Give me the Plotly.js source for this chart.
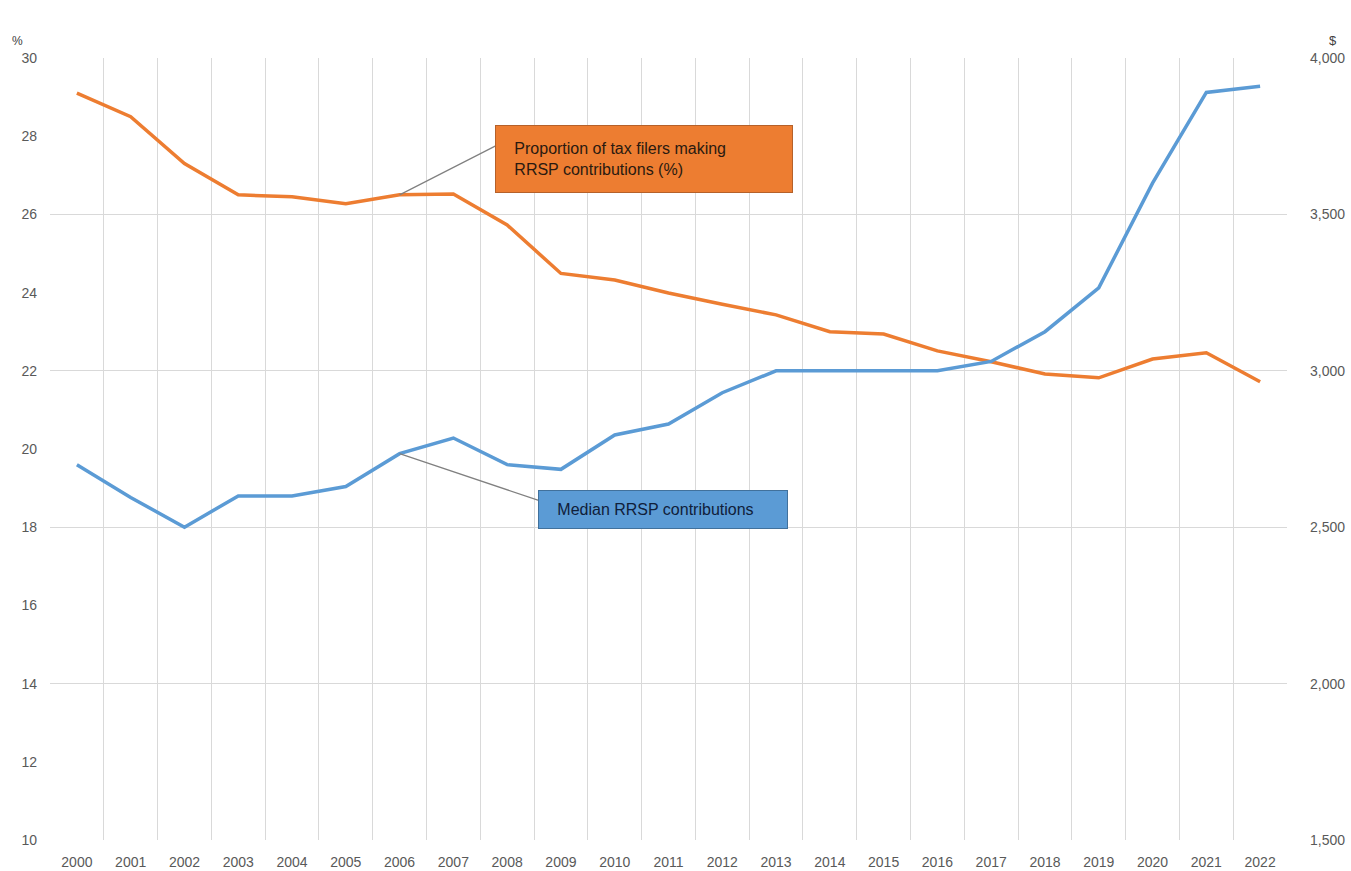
<!DOCTYPE html>
<html>
<head>
<meta charset="utf-8">
<script src="https://cdn.plot.ly/plotly-3.0.1.min.js"></script>
<style>html,body{margin:0;padding:0;background:#fff;}#chart{width:1351px;height:871px;}</style>
</head>
<body>
<div id="chart"></div>
<script>
const years = ["2000","2001","2002","2003","2004","2005","2006","2007","2008","2009","2010","2011","2012","2013","2014","2015","2016","2017","2018","2019","2020","2021","2022"];
const proportionPct = [29.1, 28.5, 27.3, 26.5, 26.45, 26.27, 26.5, 26.52, 25.73, 24.49, 24.32, 23.99, 23.7, 23.43, 23.0, 22.94, 22.51, 22.23, 21.92, 21.82, 22.3, 22.46, 21.72];
const medianContrib = [2700, 2595, 2500, 2600, 2600, 2630, 2735, 2785, 2700, 2685, 2795, 2830, 2930, 3000, 3000, 3000, 3000, 3030, 3125, 3265, 3600, 3890, 3910];
const leftTicks = [10, 12, 14, 16, 18, 20, 22, 24, 26, 28, 30];
const rightTicks = [1500, 2000, 2500, 3000, 3500, 4000];
const orangeLabelLines = ["Proportion of tax filers making", "RRSP contributions (%)"];
const blueLabel = "Median RRSP contributions";

const ORANGE = "#ED7D31";
const BLUE = "#5B9BD5";
const tickFont = {family: "Liberation Sans, Arial, sans-serif", size: 14, color: "#595959"};
const pad = "&nbsp;&nbsp;&nbsp;";
const leaderYear = "2006";
const li = years.indexOf(leaderYear);

const traces = [
  {x: years, y: medianContrib, yaxis: "y2", type: "scatter", mode: "lines",
   line: {color: BLUE, width: 3.5}, name: blueLabel, hoverinfo: "x+y"},
  {x: years, y: proportionPct, yaxis: "y", type: "scatter", mode: "lines",
   line: {color: ORANGE, width: 3.5}, name: "Proportion", hoverinfo: "x+y"}
];

const leaderStyle = {
  showarrow: true, text: ".", font: {size: 4, color: "rgba(0,0,0,0)"}, borderpad: 0,
  arrowhead: 0, arrowwidth: 1.2, arrowcolor: "#808080", standoff: 0
};

const layout = {
  width: 1351, height: 871,
  margin: {l: 50, r: 64, t: 58, b: 31},
  paper_bgcolor: "#ffffff", plot_bgcolor: "#ffffff",
  showlegend: false,
  xaxis: {
    type: "category", tickson: "boundaries", showgrid: true, gridcolor: "#d9d9d9", gridwidth: 1,
    ticks: "", tickfont: tickFont, ticklabelstandoff: 12, zeroline: false, showline: false,
    range: [-0.5, years.length - 0.5], fixedrange: true
  },
  yaxis: {
    range: [10, 30], tickvals: leftTicks, ticktext: leftTicks.map(String),
    showgrid: false, zeroline: false, showline: false, ticks: "",
    tickfont: tickFont, ticklabelstandoff: 12, fixedrange: true
  },
  yaxis2: {
    overlaying: "y", side: "right", range: [1500, 4000], tickvals: rightTicks,
    ticktext: rightTicks.map(v => v.toLocaleString("en-US")),
    showgrid: true, gridcolor: "#d9d9d9", gridwidth: 1, zeroline: false, showline: false,
    ticks: "", tickfont: tickFont, ticklabelstandoff: 22, fixedrange: true
  },
  annotations: [
    {xref: "paper", yref: "paper", x: -0.026, y: 1.0, yshift: 17, text: "%", showarrow: false,
     xanchor: "center", yanchor: "middle", font: {family: "Liberation Sans, Arial", size: 12, color: "#404040"}},
    {xref: "paper", yref: "paper", x: 1.037, y: 1.0, yshift: 18, text: "$", showarrow: false,
     xanchor: "center", yanchor: "middle", font: {family: "Liberation Sans, Arial", size: 13, color: "#404040"}},
    Object.assign({xref: "x", yref: "y", x: li, y: proportionPct[li], ax: 98, ay: -50}, leaderStyle),
    Object.assign({xref: "x", yref: "y2", x: li, y: medianContrib[li], ax: 140, ay: 47}, leaderStyle),
    {xref: "paper", yref: "paper", x: 0.480, y: 0.871, text: orangeLabelLines.map(s => pad + s).join("<br>"), showarrow: false,
     xanchor: "center", yanchor: "middle", align: "left", valign: "middle", width: 286, height: 56, borderpad: 5,
     bgcolor: ORANGE, bordercolor: "#B5612A", borderwidth: 1,
     font: {family: "Liberation Sans, Arial", size: 16, color: "#2a1a10"}},
    {xref: "paper", yref: "paper", x: 0.4956, y: 0.4226, text: pad + blueLabel, showarrow: false,
     xanchor: "center", yanchor: "middle", align: "left", width: 238, height: 27, borderpad: 5,
     bgcolor: BLUE, bordercolor: "#41719C", borderwidth: 1,
     font: {family: "Liberation Sans, Arial", size: 16, color: "#10203a"}}
  ]
};

Plotly.newPlot("chart", traces, layout, {displayModeBar: false, staticPlot: true});
</script>
</body>
</html>
